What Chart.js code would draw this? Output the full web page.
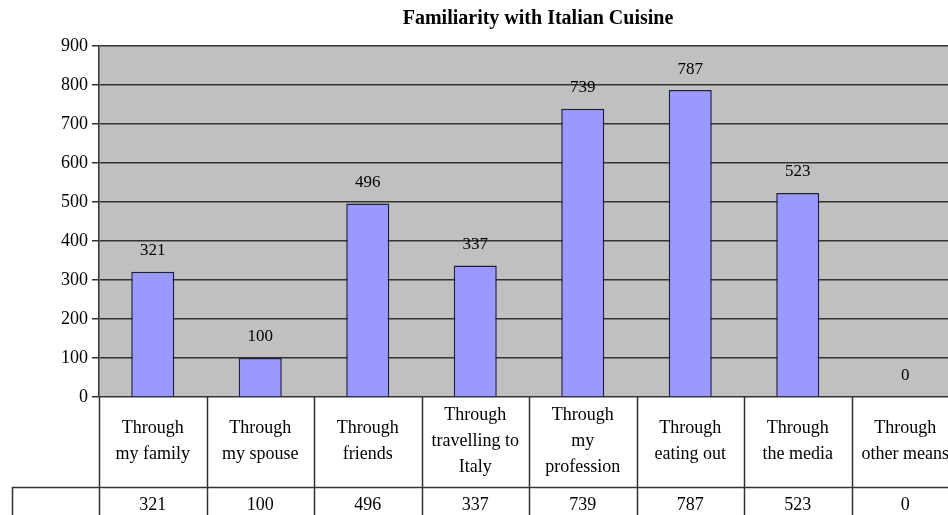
<!DOCTYPE html>
<html>
<head>
<meta charset="utf-8">
<script src="https://cdn.jsdelivr.net/npm/chart.js@4"></script>
<style>
  html, body { margin: 0; padding: 0; background: #fff; overflow: hidden; }
  #wrap { width: 948px; height: 515px; overflow: hidden; position: relative; }
  canvas { display: block; }
</style>
</head>
<body>
<div id="wrap"><canvas id="chart" width="962" height="515"></canvas></div>
<script>
// --- Data ---
const titleText = 'Familiarity with Italian Cuisine';
const categories = [
    ['Through', 'my family'],
    ['Through', 'my spouse'],
    ['Through', 'friends'],
    ['Through', 'travelling to', 'Italy'],
    ['Through', 'my', 'profession'],
    ['Through', 'eating out'],
    ['Through', 'the media'],
    ['Through', 'other means']
];
const counts = [321, 100, 496, 337, 739, 787, 523, 0];
const yTicks = [0, 100, 200, 300, 400, 500, 600, 700, 800, 900];

const serif = '"Liberation Serif", "DejaVu Serif", serif';
const lineColor = '#333333';

// --- Plugins ---
const plotBackground = {
    id: 'plotBackground',
    beforeDraw(chart) {
        const { ctx, chartArea: a } = chart;
        ctx.save();
        ctx.fillStyle = '#c0c0c0';
        ctx.fillRect(a.left, a.top, a.right - a.left, a.bottom - a.top);
        ctx.restore();
    }
};

const titleDraw = {
    id: 'titleDraw',
    afterDraw(chart) {
        const { ctx, chartArea: a } = chart;
        ctx.save();
        ctx.fillStyle = '#000';
        ctx.font = 'bold 20px ' + serif;
        ctx.textAlign = 'center';
        ctx.textBaseline = 'middle';
        ctx.fillText(titleText, (a.left + a.right) / 2 + 9, 19);
        ctx.restore();
    }
};

const valueLabels = {
    id: 'valueLabels',
    afterDatasetsDraw(chart) {
        const { ctx } = chart;
        const meta = chart.getDatasetMeta(0);
        ctx.save();
        ctx.fillStyle = '#000';
        ctx.font = '17px ' + serif;
        ctx.textAlign = 'center';
        ctx.textBaseline = 'middle';
        meta.data.forEach((bar, i) => {
            ctx.fillText(String(counts[i]), bar.x, bar.y - 21);
        });
        ctx.restore();
    }
};

// category table + data table under the plot
const dataTable = {
    id: 'dataTable',
    afterDraw(chart) {
        const { ctx, chartArea: a } = chart;
        const H = chart.height;
        const step = (a.right - a.left) / categories.length;
        const rowY = 487;
        ctx.save();
        ctx.strokeStyle = lineColor;
        ctx.lineWidth = 1.5;
        ctx.beginPath();
        for (let i = 0; i <= categories.length; i++) {
            const x = Math.round(a.left + i * step) + 0.5;
            ctx.moveTo(x, a.bottom);
            ctx.lineTo(x, H);
        }
        ctx.moveTo(12.5, rowY);
        ctx.lineTo(12.5, H);
        ctx.moveTo(12, rowY + 0.5);
        ctx.lineTo(a.right, rowY + 0.5);
        ctx.stroke();

        ctx.fillStyle = '#000';
        ctx.font = '18px ' + serif;
        ctx.textAlign = 'center';
        ctx.textBaseline = 'middle';
        const lh = 26;
        const midY = (a.bottom + rowY) / 2 - 1;
        categories.forEach((lines, i) => {
            const cx = chart.scales.x.getPixelForValue(i);
            const y0 = midY - (lines.length - 1) * lh / 2;
            lines.forEach((t, j) => ctx.fillText(t, cx, y0 + j * lh));
            ctx.fillText(String(counts[i]), cx, 505);
        });
        ctx.restore();
    }
};

// --- Chart ---
new Chart(document.getElementById('chart'), {
    type: 'bar',
    data: {
        labels: categories.map(c => c.join(' ')),
        datasets: [{
            data: counts,
            backgroundColor: '#9999ff',
            borderColor: '#1c1c4a',
            borderWidth: 1.5,
            categoryPercentage: 1,
            barPercentage: 0.4
        }]
    },
    options: {
        responsive: false,
        animation: false,
        layout: { padding: { top: 46, left: 0, right: 3, bottom: 0 } },
        plugins: {
            legend: { display: false },
            title: { display: false },
            tooltip: { enabled: false }
        },
        scales: {
            x: {
                grid: { display: false },
                border: { display: false },
                ticks: { display: false },
                afterFit(s) { s.height = 118; }
            },
            y: {
                min: 0,
                max: 900,
                afterBuildTicks(s) { s.ticks = yTicks.map(v => ({ value: v })); },
                ticks: {
                    color: '#000',
                    font: { family: serif, size: 18 },
                    padding: 4
                },
                grid: { color: lineColor, lineWidth: 1.5, tickLength: 7 },
                border: { color: lineColor, width: 1.5 },
                afterFit(s) { s.width = 99; }
            }
        }
    },
    plugins: [plotBackground, titleDraw, valueLabels, dataTable]
});
</script>
</body>
</html>
